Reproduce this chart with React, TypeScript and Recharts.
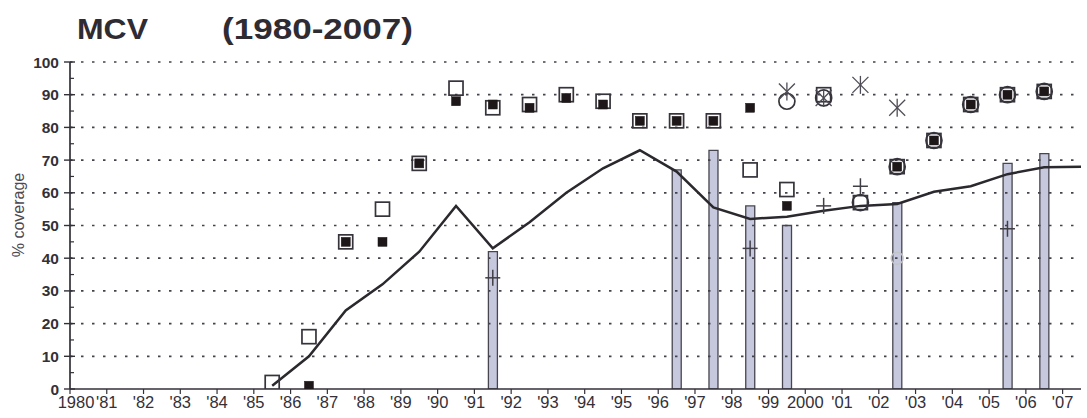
import React from 'react';
import { ComposedChart, Line, Bar, Scatter, XAxis, YAxis, ReferenceLine } from 'recharts';

// ---- data ----
const years = [1985, 1986, 1987, 1988, 1989, 1990, 1991, 1992, 1993, 1994, 1995, 1996,
  1997, 1998, 1999, 2000, 2001, 2002, 2003, 2004, 2005, 2006, 2007];

// estimated coverage trend line
const estimatedCoverage = [1, 10, 24, 32, 42, 56, 43, 51, 60, 67.5, 73, 66.5,
  55.5, 52, 52.7, 54.5, 56, 56.6, 60.3, 62, 65.7, 67.8, 68];

// survey results (bars)
const surveyYears = [1991, 1996, 1997, 1998, 1999, 2002, 2005, 2006];
const surveyValues = [42, 67, 73, 56, 50, 57, 69, 72];

// reported coverage (open squares)
const reportedYears = [1985, 1986, 1987, 1988, 1989, 1990, 1991, 1992, 1993, 1994, 1995,
  1996, 1997, 1998, 1999, 2000, 2001, 2002, 2003, 2004, 2005, 2006];
const reportedValues = [2, 16, 45, 55, 69, 92, 86, 87, 90, 88, 82,
  82, 82, 67, 61, 90, 57, 68, 76, 87, 90, 91];

// official coverage (filled squares)
const officialYears = [1986, 1987, 1988, 1989, 1990, 1991, 1992, 1993, 1994, 1995, 1996,
  1997, 1998, 1999, 2002, 2003, 2004, 2005, 2006];
const officialValues = [1, 45, 45, 69, 88, 87, 86, 89, 87, 82, 82,
  82, 86, 56, 68, 76, 87, 90, 91];

// administrative data (open circles)
const adminYears = [1999, 2000, 2001, 2002, 2003, 2004, 2005, 2006];
const adminValues = [88, 89, 57, 68, 76, 87, 90, 91];

// other estimates (asterisks)
const otherYears = [1999, 2000, 2001, 2002];
const otherValues = [91, 89, 93, 86];

// survey card-or-history (plus signs)
const cardYears = [1991, 1998, 2000, 2001, 2005];
const cardValues = [34, 43, 56, 62, 49];

// faint marker
const faintYears = [2002];
const faintValues = [40];

const xTickYears = [1980, 1981, 1982, 1983, 1984, 1985, 1986, 1987, 1988, 1989, 1990, 1991,
  1992, 1993, 1994, 1995, 1996, 1997, 1998, 1999, 2000, 2001, 2002, 2003, 2004, 2005, 2006, 2007];
const xTickLabels = ['1980', "'81", "'82", "'83", "'84", "'85", "'86", "'87", "'88", "'89", "'90", "'91",
  "'92", "'93", "'94", "'95", "'96", "'97", "'98", "'99", '2000', "'01", "'02", "'03", "'04", "'05", "'06", "'07"];

const yTicks = [0, 5, 10, 15, 20, 25, 30, 35, 40, 45, 50, 55, 60, 65, 70, 75, 80, 85, 90, 95, 100];
const gridValues = [10, 20, 30, 40, 50, 60, 70, 80, 90, 100];

// values are plotted in the middle of each year interval
const mid = (y: number) => y + 0.5;

const chartData = years.map((y, i) => {
  const s = surveyYears.indexOf(y);
  return { x: mid(y), estimate: estimatedCoverage[i], survey: s >= 0 ? surveyValues[s] : null };
});
const pts = (ys: number[], vs: number[]) => ys.map((y, i) => ({ x: mid(y), v: vs[i] }));

// ---- layout ----
const W = 1087;
const H = 418;
const AXIS_X = 70;
const FONT = 'Liberation Sans, Arial, Helvetica, sans-serif';
const INK = '#2f2b33';
const MARK = '#36333b';

// ---- marker shapes ----
const OpenSquare = (p: any) =>
  p.cx == null ? null : (
    <rect x={p.cx - 7} y={p.cy - 7} width={14} height={14} fill="none" stroke={MARK} strokeWidth={1.7} />
  );
const FilledSquare = (p: any) =>
  p.cx == null ? null : (
    <rect x={p.cx - 4.5} y={p.cy - 4.5} width={9} height={9} fill="#1e1719" stroke="#1e1719" strokeWidth={0.5} />
  );
const OpenCircle = (p: any) =>
  p.cx == null ? null : <circle cx={p.cx} cy={p.cy} r={8} fill="none" stroke={MARK} strokeWidth={1.7} />;
const FaintCircle = (p: any) =>
  p.cx == null ? null : <circle cx={p.cx} cy={p.cy} r={6} fill="none" stroke="#c4c4c8" strokeWidth={1.4} />;
const Asterisk = (p: any) =>
  p.cx == null ? null : (
    <g stroke="#4f4c55" strokeWidth={1.3}>
      <line x1={p.cx - 8} y1={p.cy - 8} x2={p.cx + 8} y2={p.cy + 8} />
      <line x1={p.cx - 8} y1={p.cy + 8} x2={p.cx + 8} y2={p.cy - 8} />
      <line x1={p.cx} y1={p.cy - 9} x2={p.cx} y2={p.cy + 9} />
    </g>
  );
const Plus = (p: any) =>
  p.cx == null ? null : (
    <g stroke="#413e46" strokeWidth={1.5}>
      <line x1={p.cx - 7.5} y1={p.cy} x2={p.cx + 7.5} y2={p.cy} />
      <line x1={p.cx} y1={p.cy - 8} x2={p.cx} y2={p.cy + 8} />
    </g>
  );

// ---- axis ticks ----
const XTick = (p: any) => {
  const { x, y, payload } = p;
  const idx = xTickYears.indexOf(payload.value);
  const label = idx >= 0 ? xTickLabels[idx] : '';
  const shift = payload.value === 1980 ? 6 : 0;
  return (
    <text x={x + shift} y={y} dy="0.71em" textAnchor="middle" fontFamily={FONT} fontSize={16.5} fill="#333038">
      {label}
    </text>
  );
};

const YTick = (p: any) => {
  const { y, payload } = p;
  const v = payload.value;
  const major = v % 10 === 0;
  return (
    <g>
      {major ? (
        <line x1={AXIS_X - 6} x2={AXIS_X + 5} y1={y} y2={y} stroke="#333038" strokeWidth={1.4} />
      ) : (
        <line x1={AXIS_X} x2={AXIS_X + 4} y1={y} y2={y} stroke="#333038" strokeWidth={1.2} />
      )}
      {major && (
        <text x={AXIS_X - 11} y={y} dy="0.36em" textAnchor="end" fontFamily={FONT} fontSize={15.5}
          fontWeight="bold" fill="#333038">
          {v}
        </text>
      )}
    </g>
  );
};

export default function App() {
  return (
    <div style={{ position: 'absolute', left: 0, top: 0, width: W, height: H, background: '#fff' }}>
      <ComposedChart
        width={W}
        height={H}
        data={chartData}
        margin={{ top: 62, right: 6, bottom: 4, left: 20 }}
      >
        <XAxis
          dataKey="x"
          type="number"
          domain={[1980, 2007.5]}
          allowDataOverflow
          ticks={xTickYears}
          interval={0}
          tick={<XTick />}
          height={25}
          tickSize={5}
          tickLine={{ stroke: '#333038', strokeWidth: 1.2 }}
          axisLine={{ stroke: '#333038', strokeWidth: 1.7 }}
        />
        <YAxis
          type="number"
          domain={[0, 100]}
          allowDataOverflow
          ticks={yTicks}
          interval={0}
          width={50}
          tickLine={false}
          tick={<YTick />}
          axisLine={{ stroke: '#333038', strokeWidth: 1.7 }}
        />
        {gridValues.map((v) => (
          <ReferenceLine key={v} y={v} stroke="#45424b" strokeWidth={1.7} strokeDasharray="2.5 8.5" />
        ))}
        <Bar dataKey="survey" barSize={9} fill="#c6c9de" stroke="#47454f" strokeWidth={1.3} isAnimationActive={false} />
        <Line type="linear" dataKey="estimate" stroke="#2b282e" strokeWidth={2.5} dot={false} isAnimationActive={false} />
        <Scatter data={pts(faintYears, faintValues)} dataKey="v" shape={FaintCircle} isAnimationActive={false} />
        <Scatter data={pts(adminYears, adminValues)} dataKey="v" shape={OpenCircle} isAnimationActive={false} />
        <Scatter data={pts(reportedYears, reportedValues)} dataKey="v" shape={OpenSquare} isAnimationActive={false} />
        <Scatter data={pts(officialYears, officialValues)} dataKey="v" shape={FilledSquare} isAnimationActive={false} />
        <Scatter data={pts(otherYears, otherValues)} dataKey="v" shape={Asterisk} isAnimationActive={false} />
        <Scatter data={pts(cardYears, cardValues)} dataKey="v" shape={Plus} isAnimationActive={false} />
      </ComposedChart>
      <svg width={W} height={H} style={{ position: 'absolute', left: 0, top: 0, pointerEvents: 'none' }}>
        <text x={77} y={38.5} fontFamily={FONT} fontSize={30} fontWeight="bold" fill={INK}
          textLength={71} lengthAdjust="spacingAndGlyphs">
          MCV
        </text>
        <text x={222} y={38.5} fontFamily={FONT} fontSize={30} fontWeight="bold" fill={INK}
          textLength={191} lengthAdjust="spacingAndGlyphs">
          (1980-2007)
        </text>
        <text x={0} y={0} transform="translate(24 215) rotate(-90)" textAnchor="middle" fontFamily={FONT}
          fontSize={16} fill="#4c4951">
          % coverage
        </text>
      </svg>
    </div>
  );
}
